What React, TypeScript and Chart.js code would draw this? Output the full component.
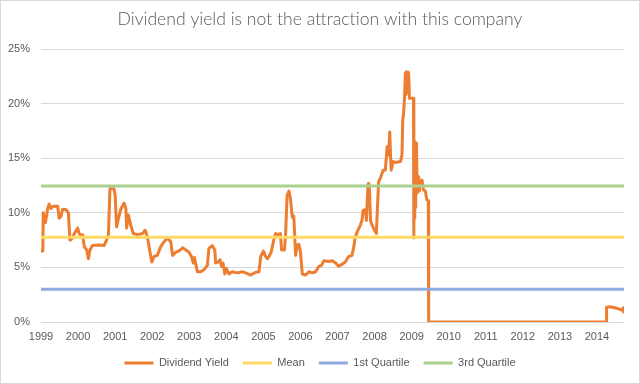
import { useEffect, useRef } from 'react';
import { Chart, registerables } from 'chart.js';

Chart.register(...registerables);

const chartTitle = 'Dividend yield is not the attraction with this company';
const seriesNames = ['Dividend Yield', 'Mean', '1st Quartile', '3rd Quartile'];
const yearTicks = [1999, 2000, 2001, 2002, 2003, 2004, 2005, 2006, 2007, 2008, 2009, 2010, 2011, 2012, 2013, 2014];
const yTicks = [0, 5, 10, 15, 20, 25];
const xStart = 1999;
const xEnd = 2014.73;

const yieldYears = [
  1999.0, 1999.05, 1999.06, 1999.12, 1999.18, 1999.22, 1999.27, 1999.33, 1999.45, 1999.49,
  1999.54, 1999.58, 1999.67, 1999.74, 1999.78, 1999.83, 1999.9, 1999.99, 2000.03, 2000.08,
  2000.12, 2000.17, 2000.23, 2000.28, 2000.32, 2000.39, 2000.57, 2000.7, 2000.75, 2000.82,
  2000.86, 2000.97, 2001.0, 2001.04, 2001.09, 2001.15, 2001.24, 2001.29, 2001.31, 2001.36,
  2001.42, 2001.49, 2001.6, 2001.74, 2001.81, 2001.87, 2001.94, 2001.99, 2002.05, 2002.14,
  2002.23, 2002.32, 2002.41, 2002.5, 2002.55, 2002.64, 2002.72, 2002.82, 2002.91, 2002.99,
  2003.06, 2003.11, 2003.14, 2003.22, 2003.31, 2003.4, 2003.49, 2003.53, 2003.62, 2003.69,
  2003.71, 2003.78, 2003.83, 2003.87, 2003.91, 2003.96, 2004.0, 2004.07, 2004.16, 2004.3,
  2004.43, 2004.52, 2004.66, 2004.79, 2004.88, 2004.93, 2005.0, 2005.06, 2005.11, 2005.15,
  2005.21, 2005.28, 2005.33, 2005.39, 2005.46, 2005.49, 2005.57, 2005.6, 2005.64, 2005.69,
  2005.73, 2005.78, 2005.82, 2005.87, 2005.91, 2005.96, 2006.0, 2006.05, 2006.14, 2006.23,
  2006.32, 2006.41, 2006.5, 2006.57, 2006.63, 2006.76, 2006.86, 2006.95, 2007.03, 2007.13,
  2007.21, 2007.3, 2007.39, 2007.44, 2007.48, 2007.55, 2007.62, 2007.66, 2007.69, 2007.75,
  2007.78, 2007.82, 2007.84, 2007.86, 2007.89, 2007.93, 2008.0, 2008.05, 2008.08, 2008.11,
  2008.16, 2008.23, 2008.29, 2008.34, 2008.38, 2008.41, 2008.43, 2008.45, 2008.5, 2008.56,
  2008.7, 2008.74, 2008.76, 2008.78, 2008.81, 2008.83, 2008.84, 2008.85, 2008.86, 2008.87,
  2008.89, 2008.9, 2008.92, 2008.94, 2009.05, 2009.06, 2009.07, 2009.08, 2009.09, 2009.1,
  2009.11, 2009.12, 2009.13, 2009.15, 2009.19, 2009.21, 2009.23, 2009.28, 2009.32, 2009.37,
  2009.41, 2009.45, 2009.46, 2014.25, 2014.26, 2014.35, 2014.48, 2014.58, 2014.67, 2014.71,
  2014.73,
];

const yieldValues = [
  6.5, 6.5, 10.0, 9.1, 10.4, 10.8, 10.4, 10.6, 10.6, 9.5,
  9.7, 10.3, 10.3, 10.0, 7.5, 7.6, 8.1, 8.6, 8.1, 7.9,
  8.0, 6.9, 6.6, 5.8, 6.6, 7.0, 7.05, 7.0, 7.35, 8.0,
  12.2, 12.2, 11.6, 8.7, 9.5, 10.3, 10.9, 10.4, 8.6, 9.8,
  8.9, 8.1, 8.0, 8.1, 8.4, 7.8, 6.4, 5.5, 6.0, 6.1,
  6.9, 7.35, 7.7, 7.35, 6.1, 6.4, 6.5, 6.8, 6.6, 6.4,
  6.0, 5.4, 5.9, 4.6, 4.6, 4.8, 5.2, 6.75, 7.0, 6.6,
  5.4, 5.5, 5.7, 5.1, 5.4, 4.4, 4.9, 4.4, 4.6, 4.5,
  4.6, 4.5, 4.3, 4.55, 4.6, 6.0, 6.5, 6.0, 5.8, 6.0,
  6.4, 7.5, 8.1, 8.0, 8.1, 6.6, 6.6, 8.1, 11.6, 12.0,
  11.3, 9.6, 9.7, 6.1, 7.05, 7.1, 6.4, 4.4, 4.3, 4.6,
  4.5, 4.6, 5.1, 5.2, 5.6, 5.55, 5.6, 5.4, 5.1, 5.3,
  5.5, 6.0, 6.1, 6.9, 7.8, 8.4, 8.9, 9.3, 10.2, 10.3,
  9.3, 12.5, 12.7, 12.4, 9.3, 8.9, 8.4, 8.1, 10.7, 12.85,
  13.2, 13.9, 13.9, 16.05, 15.3, 17.4, 15.3, 13.9, 14.7, 14.6,
  14.7, 15.3, 18.5, 18.95, 20.6, 22.8, 20.8, 22.9, 21.0, 22.9,
  21.2, 22.9, 22.8, 20.5, 20.5, 7.7, 16.5, 9.5, 16.5, 10.5,
  16.4, 12.0, 16.4, 11.8, 13.3, 12.0, 12.8, 13.0, 12.1, 12.0,
  11.2, 11.1, 0, 0, 1.35, 1.4, 1.3, 1.2, 1.1, 1.3,
  0.8,
];

const meanValue = 7.76;
const q1Value = 3.0;
const q3Value = 12.45;

const seriesColors = ['#ED7D31', '#FFD966', '#8FAADC', '#A9D18E'];

const frame = {
  id: 'frame',
  beforeDraw(chart: any) {
    const { ctx, width, height } = chart;
    ctx.save();
    ctx.fillStyle = '#ffffff';
    ctx.fillRect(0, 0, width, height);
    ctx.strokeStyle = '#d9d9d9';
    ctx.lineWidth = 1;
    ctx.strokeRect(0.5, 0.5, width - 1, height - 1);
    ctx.restore();
  },
};

function flat(v: number) {
  return [
    { x: xStart, y: v },
    { x: xEnd, y: v },
  ];
}

export default function App() {
  const ref = useRef<HTMLCanvasElement | null>(null);

  useEffect(() => {
    if (!ref.current) return;
    const yieldData = yieldYears.map((x, i) => ({ x, y: yieldValues[i] }));
    const chart = new Chart(ref.current, {
      type: 'line',
      data: {
        datasets: [
          { label: seriesNames[0], data: yieldData, borderColor: seriesColors[0], backgroundColor: seriesColors[0], borderWidth: 3, pointRadius: 0, order: 2, borderJoinStyle: 'round' },
          { label: seriesNames[1], data: flat(meanValue), borderColor: seriesColors[1], backgroundColor: seriesColors[1], borderWidth: 3, pointRadius: 0, order: 1 },
          { label: seriesNames[2], data: flat(q1Value), borderColor: seriesColors[2], backgroundColor: seriesColors[2], borderWidth: 3, pointRadius: 0, order: 1 },
          { label: seriesNames[3], data: flat(q3Value), borderColor: seriesColors[3], backgroundColor: seriesColors[3], borderWidth: 3, pointRadius: 0, order: 1 },
        ],
      },
      options: {
        responsive: false,
        animation: false,
        events: [],
        layout: { padding: { left: 0, right: 0, top: 0, bottom: 5.4 } },
        scales: {
          x: {
            type: 'linear',
            min: xStart,
            max: xEnd,
            grid: { display: false, drawTicks: false },
            border: { display: false },
            afterBuildTicks: (scale: any) => {
              scale.ticks = yearTicks.map((v) => ({ value: v }));
            },
            afterFit: (scale: any) => {
              scale.height = 21.6;
            },
            ticks: {
              autoSkip: false,
              maxRotation: 0,
              padding: 8.4,
              color: '#595959',
              font: { family: 'Liberation Sans', size: 11 },
              callback: (v: any) => String(v),
            },
          },
          y: {
            min: 0,
            max: 25,
            afterBuildTicks: (scale: any) => {
              scale.ticks = yTicks.map((v) => ({ value: v }));
            },
            afterFit: (scale: any) => {
              scale.width = 41;
            },
            grid: { color: '#d9d9d9', lineWidth: 1, drawTicks: false },
            border: { display: false },
            ticks: {
              padding: 11,
              color: '#595959',
              font: { family: 'Liberation Sans', size: 11 },
              callback: (v: any) => v + '%',
            },
          },
          yRight: {
            position: 'right',
            display: true,
            grid: { display: false, drawTicks: false },
            border: { display: false },
            ticks: { display: false },
            afterFit: (scale: any) => {
              scale.width = 16;
            },
          },
        },
        plugins: {
          title: {
            display: true,
            text: chartTitle,
            color: '#595959',
            font: { family: 'Lato', size: 17.6, weight: 300 },
            padding: { top: 8.4, bottom: 19.5 },
          },
          legend: {
            position: 'bottom',
            labels: {
              usePointStyle: true,
              pointStyle: 'line',
              pointStyleWidth: 29,
              padding: 14,
              color: '#595959',
              font: { family: 'Liberation Sans', size: 11 },
              sort: (a: any, b: any) => a.datasetIndex - b.datasetIndex,
            },
          },
          tooltip: { enabled: false },
        },
      },
      plugins: [frame],
    } as any);
    return () => chart.destroy();
  }, []);

  return (
    <div style={{ position: 'fixed', left: 0, top: 0, width: 640, height: 384 }}>
      <canvas ref={ref} width={640} height={384} />
    </div>
  );
}
